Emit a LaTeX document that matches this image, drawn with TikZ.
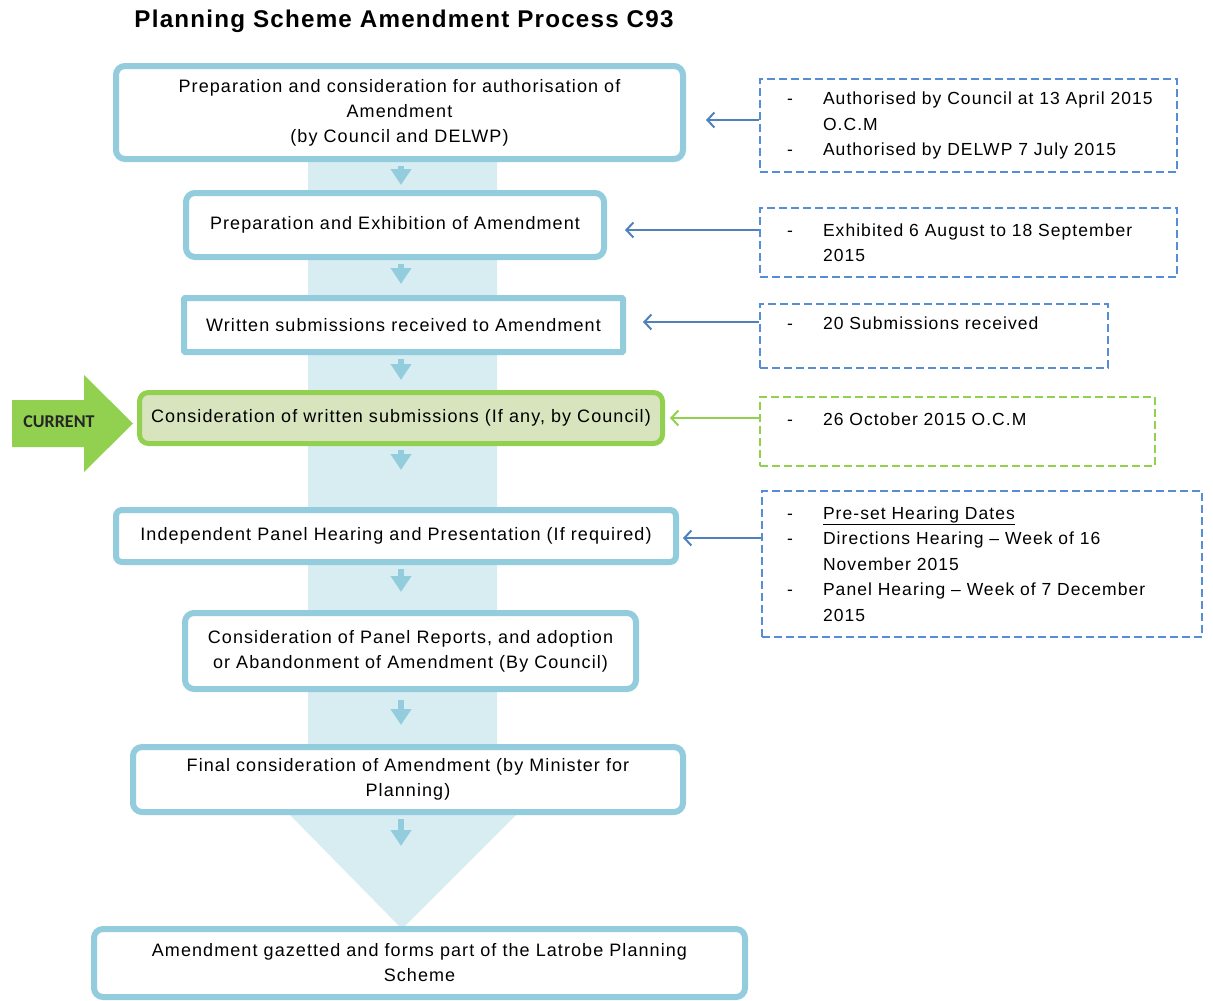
\documentclass[tikz,border=0pt]{standalone}
\usepackage{fontspec}
\setmainfont{Liberation Sans}
\newfontfamily\spacedfont[LetterSpace=5]{Liberation Sans}
\newfontfamily\stagefont[LetterSpace=6]{Liberation Sans}
\newfontfamily\tagfont{Carlito}
\usepackage{tikz}
\usetikzlibrary{arrows.meta, calc}
\definecolor{aqualine}{HTML}{93CDDD}
\definecolor{aquaband}{HTML}{D8EDF2}
\definecolor{noteblue}{HTML}{558ED5}
\definecolor{linkblue}{HTML}{4F81BD}
\definecolor{curgreen}{HTML}{92D050}
\definecolor{curfill}{HTML}{D7E4BD}
\newcommand{\notedash}{\makebox[36pt][l]{-}}
\newcommand{\noteindent}{\hspace*{36pt}}
\tikzset{stagebox/.style={draw=aqualine, line width=6pt, rounded corners=9pt, fill=white,
    inner sep=0pt, align=center, font=\stagefont\fontsize{18}{25}\selectfont},
  currentbox/.style={stagebox, draw=curgreen, fill=curfill, line width=5pt},
  notebox/.style={draw=noteblue, line width=2.5pt, dash pattern=on 8pt off 4pt,
    inner xsep=27pt, inner ysep=0pt, align=left, font=\stagefont\fontsize{17.5}{25.5}\selectfont},
  downarrow/.style={draw=aqualine, line width=6pt, -{Triangle[length=16pt,width=20pt]},
    shorten <=4pt},
  notearrow/.style={draw=linkblue, line width=2pt, -{Straight Barb[length=7pt,width=15pt]}}
}

\begin{document}
\begin{tikzpicture}[x=1pt,y=-1pt]
  \useasboundingbox (0,0) rectangle (1213,1001);
  \fill[aquaband] (308,150) -- (497,150) -- (497,815) -- (516,815) -- (402,929)
    -- (290,815) -- (308,815) -- cycle;
  \coordinate (axis) at (401,0);
  \node[font=\spacedfont\bfseries\fontsize{24.2}{28}\selectfont] (title) at (404,21)
    {Planning Scheme Amendment Process C93};

  \node[stagebox, minimum width=567pt, minimum height=93pt] (prep) at (399.5,112.5)
    {Preparation and consideration for authorisation of\\Amendment\\(by Council and DELWP)};
  \node[stagebox, minimum width=418pt, minimum height=64pt] (exhibit) at (395,225)
    {Preparation and Exhibition of Amendment};
  \node[stagebox, rounded corners=1pt, minimum width=439pt, minimum height=54pt] (written) at (403.5,325)
    {Written submissions received to Amendment};
  \node[currentbox, minimum width=523pt, minimum height=51pt] (consider) at (401,418)
    {Consideration of written submissions (If any, by Council)};
  \node[stagebox, rounded corners=6pt, minimum width=560pt, minimum height=52pt] (panel) at (396,536)
    {Independent Panel Hearing and Presentation (If required)};
  \node[stagebox, minimum width=451pt, minimum height=76pt] (report) at (410.5,651)
    {Consideration of Panel Reports, and adoption\\or Abandonment of Amendment (By Council)};
  \node[stagebox, minimum width=550pt, minimum height=65pt] (final) at (408,779.5)
    {Final consideration of Amendment (by Minister for\\Planning)};
  \node[stagebox, minimum width=651pt, minimum height=68pt] (gazette) at (419.5,963)
    {Amendment gazetted and forms part of the Latrobe Planning\\Scheme};
  \coordinate (tipend) at (401,846);

  \draw[downarrow, shorten >=5pt] (prep.south -| axis) -- (exhibit.north -| axis);
  \draw[downarrow, shorten >=11pt] (exhibit.south -| axis) -- (written.north -| axis);
  \draw[downarrow, shorten >=10pt] (written.south -| axis) -- (consider.north -| axis);
  \draw[downarrow, shorten >=37pt] (consider.south -| axis) -- (panel.north -| axis);
  \draw[downarrow, shorten >=18pt] (panel.south -| axis) -- (report.north -| axis);
  \draw[downarrow, shorten <=8pt, shorten >=19pt] (report.south -| axis) -- (final.north -| axis);
  \draw[downarrow] (final.south -| axis) -- (tipend);

  \fill[curgreen] (12,400) -- (84,400) -- (84,375) -- (133,423.5) -- (84,472) -- (84,447)
    -- (12,447) -- cycle;
  \node[font=\tagfont\bfseries\fontsize{18}{20}\selectfont, text=black!85] (current) at (59,422) {CURRENT};

  \node[notebox, text width=363pt, minimum width=417pt, minimum height=93pt] (authnote) at (968.5,125.5)
    {\mbox{\notedash Authorised by Council at 13 April 2015}\\\noteindent O.C.M\\\mbox{\notedash Authorised by DELWP 7 July 2015}};
  \node[notebox, text width=363pt, minimum width=417pt, minimum height=69pt] (exhibnote) at (968.5,242.5)
    {\mbox{\notedash Exhibited 6 August to 18 September}\\\noteindent 2015};
  \node[notebox, text width=294pt, minimum width=348pt, minimum height=64pt] (subnote) at (934,336)
    {\notedash 20 Submissions received\\~};
  \node[notebox, draw=curgreen, text width=341pt, minimum width=395pt, minimum height=69pt] (ocmnote) at (957.5,431.5)
    {\notedash 26 October 2015 O.C.M\\~};
  \node[notebox, inner xsep=25pt, text width=390pt, minimum width=440pt, minimum height=146pt] (hearnote) at (982,564)
    {\notedash\underline{Pre-set Hearing Dates}\\\notedash Directions Hearing – Week of 16\\\noteindent November 2015\\\mbox{\notedash Panel Hearing – Week of 7 December}\\\noteindent 2015};

  \draw[notearrow, shorten >=20pt] ($(authnote.west |- prep.east)+(0,7.5)$) -- ($(prep.east)+(0,7.5)$);
  \draw[notearrow, shorten >=18pt] ($(exhibnote.west |- exhibit.east)+(0,5)$) -- ($(exhibit.east)+(0,5)$);
  \draw[notearrow, shorten >=17pt] ($(subnote.west |- written.east)+(0,-3)$) -- ($(written.east)+(0,-3)$);
  \draw[notearrow, draw=curgreen, shorten >=5pt] (ocmnote.west |- consider.east) -- (consider.east);
  \draw[notearrow, shorten >=4pt] ($(hearnote.west |- panel.east)+(0,2)$) -- ($(panel.east)+(0,2)$);
\end{tikzpicture}
\end{document}
